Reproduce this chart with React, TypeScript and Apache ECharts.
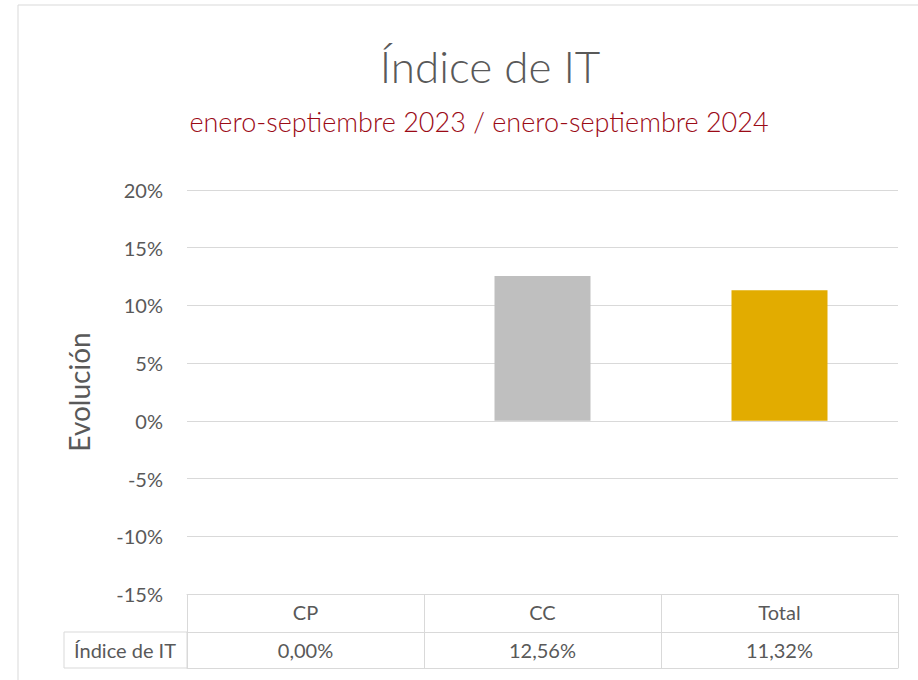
import React, { useEffect, useRef } from "react";
import * as echarts from "echarts";

const categories = ["CP", "CC", "Total"];
const values = [0.0, 12.56, 11.32];
const barColors = ["#BFBFBF", "#BFBFBF", "#E2AC00"];
const yTicks = { min: -15, max: 20, interval: 5 };
const titleText = "Índice de IT";
const subtitleText = "enero-septiembre 2023 / enero-septiembre 2024";
const rowHeader = "Índice de IT";
const yName = "Evolución";

const fmt = (v: number) => v.toFixed(2).replace(".", ",") + "%";

const FONT = "Lato, 'Open Sans', sans-serif";
const TXT = "#595959";
const LINE = "#D9D9D9";

export default function App() {
  const ref = useRef<HTMLDivElement>(null);
  useEffect(() => {
    if (!ref.current) return;
    const chart = echarts.init(ref.current, undefined, { renderer: "svg" });
    const gridLeft = 187;
    const gridRight = 20;
    const gridTop = 190;
    const gridBottom = 86;
    chart.setOption({
      animation: false,
      backgroundColor: "#ffffff",
      grid: { left: gridLeft, right: gridRight, top: gridTop, bottom: gridBottom, containLabel: false },
      xAxis: [
        {
          type: "category",
          data: categories,
          position: "bottom",
          axisLine: { show: true, onZero: false, lineStyle: { color: LINE, width: 1 } },
          axisTick: { show: true, alignWithLabel: false, interval: 0, length: 74, lineStyle: { color: LINE } },
          axisLabel: { color: TXT, fontSize: 20, fontFamily: FONT, margin: 8 },
        },
        {
          type: "category",
          data: categories,
          position: "bottom",
          offset: 38,
          axisLine: { show: true, onZero: false, lineStyle: { color: LINE, width: 1 } },
          axisTick: { show: false },
          axisLabel: {
            color: TXT,
            fontSize: 20,
            fontFamily: FONT,
            margin: 8,
            formatter: (_v: string, i: number) => fmt(values[i]),
          },
        },
        {
          type: "category",
          data: categories,
          position: "bottom",
          offset: 74,
          axisLine: { show: true, onZero: false, lineStyle: { color: LINE, width: 1 } },
          axisTick: { show: false },
          axisLabel: { show: false },
        },
      ],
      yAxis: {
        type: "value",
        min: yTicks.min,
        max: yTicks.max,
        interval: yTicks.interval,
        name: yName,
        nameLocation: "middle",
        nameGap: 94,
        nameRotate: 90,
        nameTextStyle: { color: TXT, fontSize: 28, fontFamily: FONT },
        axisLine: { show: false },
        axisTick: { show: false },
        axisLabel: { color: TXT, fontSize: 20, fontFamily: FONT, margin: 24, formatter: "{value}%" },
        splitLine: { show: true, lineStyle: { color: LINE, width: 1 } },
      },
      series: [
        {
          type: "bar",
          xAxisIndex: 0,
          barWidth: 96,
          data: values.map((v, i) => ({ value: v, itemStyle: { color: barColors[i] } })),
        },
      ],
      graphic: [
        {
          type: "rect",
          shape: { x: 18, y: 5, width: 1200, height: 1200 },
          style: { fill: "none", stroke: LINE, lineWidth: 1 },
          silent: true,
        },
        {
          type: "text",
          x: 490,
          y: 66,
          style: {
            text: titleText,
            fill: TXT,
            fontSize: 44,
            fontWeight: 300,
            fontFamily: FONT,
            textAlign: "center",
            textVerticalAlign: "middle",
          },
        },
        {
          type: "text",
          x: 479,
          y: 121,
          style: {
            text: subtitleText,
            fill: "#9B0A16",
            fontSize: 27,
            fontWeight: 300,
            fontFamily: FONT,
            textAlign: "center",
            textVerticalAlign: "middle",
          },
        },
        {
          type: "rect",
          shape: { x: 64, y: 632, width: 123, height: 36 },
          style: { fill: "none", stroke: LINE, lineWidth: 1 },
          silent: true,
        },
        {
          type: "text",
          x: 125,
          y: 650,
          style: {
            text: rowHeader,
            fill: TXT,
            fontSize: 20,
            fontFamily: FONT,
            textAlign: "center",
            textVerticalAlign: "middle",
          },
        },
      ],
    });
    return () => chart.dispose();
  }, []);
  return (
    <div
      ref={ref}
      style={{ position: "fixed", left: 0, top: 0, width: 918, height: 680 }}
    />
  );
}
